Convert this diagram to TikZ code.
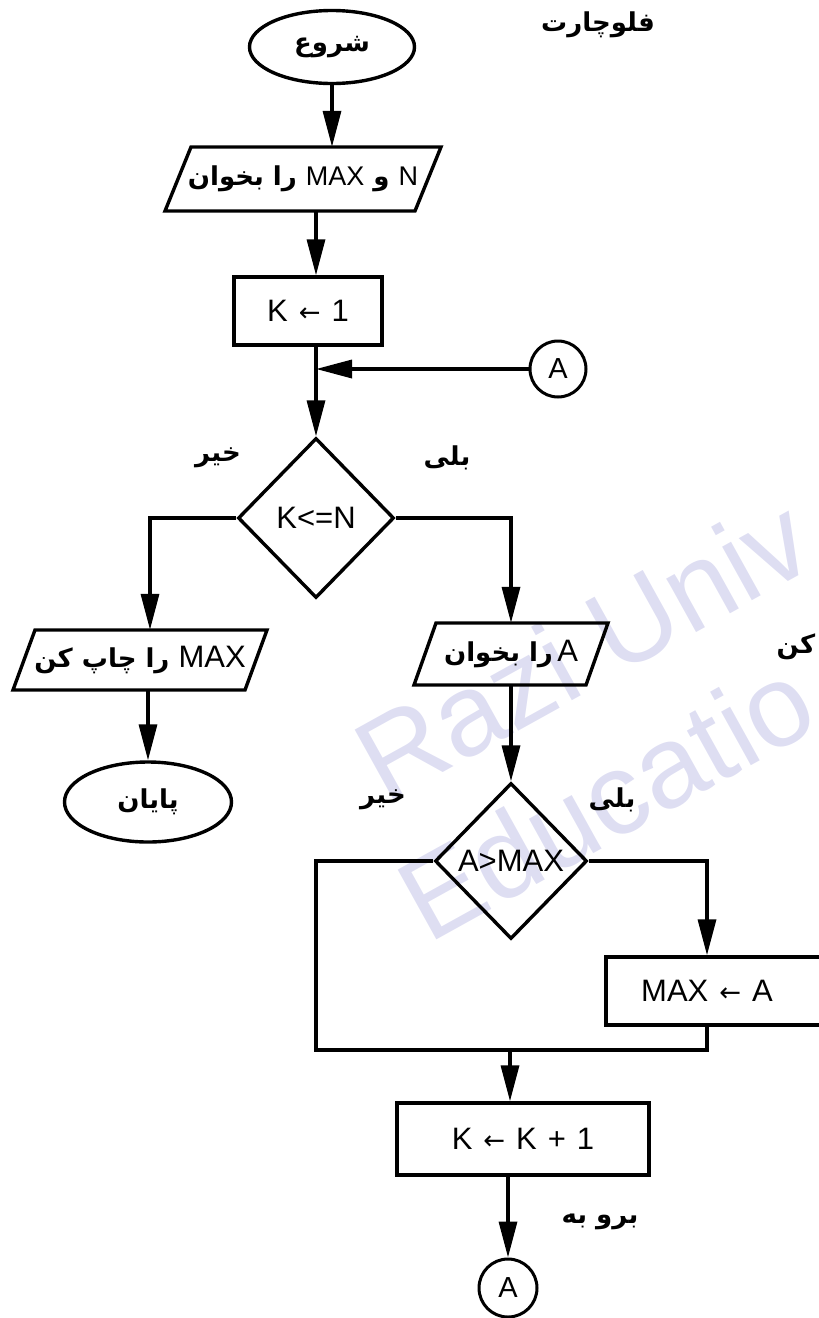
\documentclass[tikz,border=0pt]{standalone}
\usepackage{fontspec}
\setmainfont{Liberation Sans}
\newfontfamily\fafont[Script=Arabic]{DejaVu Sans}
\newfontfamily\dvfont{DejaVu Sans}
\TeXXeTstate=1
\usetikzlibrary{shapes.geometric,arrows.meta,calc}
\newcommand\LT[1]{{\rmfamily\mdseries\fontsize{31}{36}\selectfont #1}}
\newcommand\LTs[1]{{\rmfamily\mdseries\fontsize{27}{32}\selectfont #1}}
\newcommand\arw{{\dvfont\fontsize{26}{26}\selectfont ←}}
\newcommand\gapsp{\hspace{11pt}}
\newcommand\mypara[4]{\draw[ln, line join=miter] ($(#1)+(-#2+#4,-#3)$) -- ($(#1)+(#2+#4,-#3)$) -- ($(#1)+(#2-#4,#3)$) -- ($(#1)+(-#2-#4,#3)$) -- cycle;}
\definecolor{wmcol}{RGB}{222,222,242}
\begin{document}
\begin{tikzpicture}[x=1pt,y=-1pt,
  every node/.style={inner sep=0pt, font=\rmfamily\fontsize{31}{36}\selectfont},
  ln/.style={line width=3.4pt},
  arr/.style={ln, -{Triangle[length=36pt,width=18pt]}},
  term/.style={ellipse, draw, line width=3.4pt},
  proc/.style={rectangle, draw, line width=3.4pt},
  dec/.style={diamond, draw, line width=3.4pt},
  conn/.style={circle, draw, line width=3pt, minimum size=56pt, font=\rmfamily\fontsize{29}{32}\selectfont},
  fa/.style={font=\fafont\bfseries\fontsize{26}{30}\selectfont},
  wm/.style={text=wmcol, font=\rmfamily\fontsize{116}{120}\selectfont, rotate=29, anchor=base west}
]
\useasboundingbox (0,0) rectangle (819,1318);
\clip (0,0) rectangle (819,1318);
% watermark
\node[wm] (wm1) at (385,805) {Razi Univ};
\node[wm] (wm2) at (428,945) {Educatio};

% title
\node[fa] (title) at (598,25) {\beginR فلوچارت\endR};
\node[fa] (frag) at (796,647) {\beginR کن\endR};

% main column
\node[term, minimum width=165pt, minimum height=73pt, fa] (start) at (332,47) {\beginR شروع\endR};
\node[minimum width=250pt, minimum height=64pt, fa] (in1) at (303,179) {\beginR\LTs{N} و \LTs{MAX} را بخوان\endR};
\mypara{in1}{125}{32}{13}
\node[proc, minimum width=148pt, minimum height=68pt] (k1) at (308,311) {K\gapsp\arw\gapsp 1};
\coordinate (J) at (316,369);
\node[conn] (A1) at (558,369) {A};
\node[dec, minimum width=156pt, minimum height=160pt] (d1) at (316,518) {K<=N};

\draw[arr] (start.south) -- (start.south |- in1.north);
\draw[arr] (J |- in1.south) -- (J |- k1.north);
\draw[ln] (J |- k1.south) -- (J);
\draw[arr] (J) -- (d1.north);
\draw[arr] (A1.west) -- (J);

\node[fa] (no1) at (218,458) {\beginR خیر\endR};
\node[fa] (yes1) at (447,458) {\beginR بلی\endR};

% left branch
\node[minimum width=232pt, minimum height=60pt, fa] (out1) at (140,660) {\beginR\LT{MAX} را چاپ کن\endR};
\mypara{out1}{116}{30}{11}
\node[term, minimum width=167pt, minimum height=80pt, fa] (end) at (148,802) {\beginR پایان\endR};
\draw[arr] (d1.west) -| ($(out1.north)+(10,0)$);
\draw[arr] ($(out1.south)+(8,0)$) -- (end.north);

% right branch
\node[minimum width=172pt, minimum height=62pt, fa] (in2) at (511,654) {\beginR\LT{A}\,را بخوان\endR};
\mypara{in2}{86}{31}{11}
\draw[arr] (d1.east) -| (in2.north);
\node[dec, minimum width=152pt, minimum height=156pt] (d2) at (511,861) {A>MAX};
\draw[arr] (in2.south) -- (d2.north);
\node[fa] (no2) at (383,800) {\beginR خیر\endR};
\node[fa] (yes2) at (612,800) {\beginR بلی\endR};

\node[proc, minimum width=226pt, minimum height=68pt] (m) at (719,991) {MAX\gapsp\arw\gapsp A\kern24pt};
\draw[arr] (d2.east) -| ($(m.north)+(-12,0)$);
\coordinate (bl) at (316,1050);
\coordinate (mrg) at (510,1050);
\draw[ln] (d2.west) -| (bl) -| ($(m.south)+(-12,0)$);

\node[proc, minimum width=252pt, minimum height=72pt] (k2) at (523,1139) {K\gapsp\arw\gapsp K\gapsp+\gapsp 1};
\draw[arr] (mrg) -- (mrg |- k2.north);
\node[conn, minimum size=58pt] (A2) at (508,1288) {A};
\draw[arr] (k2.south -| A2) -- (A2.north);
\node[fa] (goto) at (600,1222) {\beginR برو به\endR};
\end{tikzpicture}
\end{document}
